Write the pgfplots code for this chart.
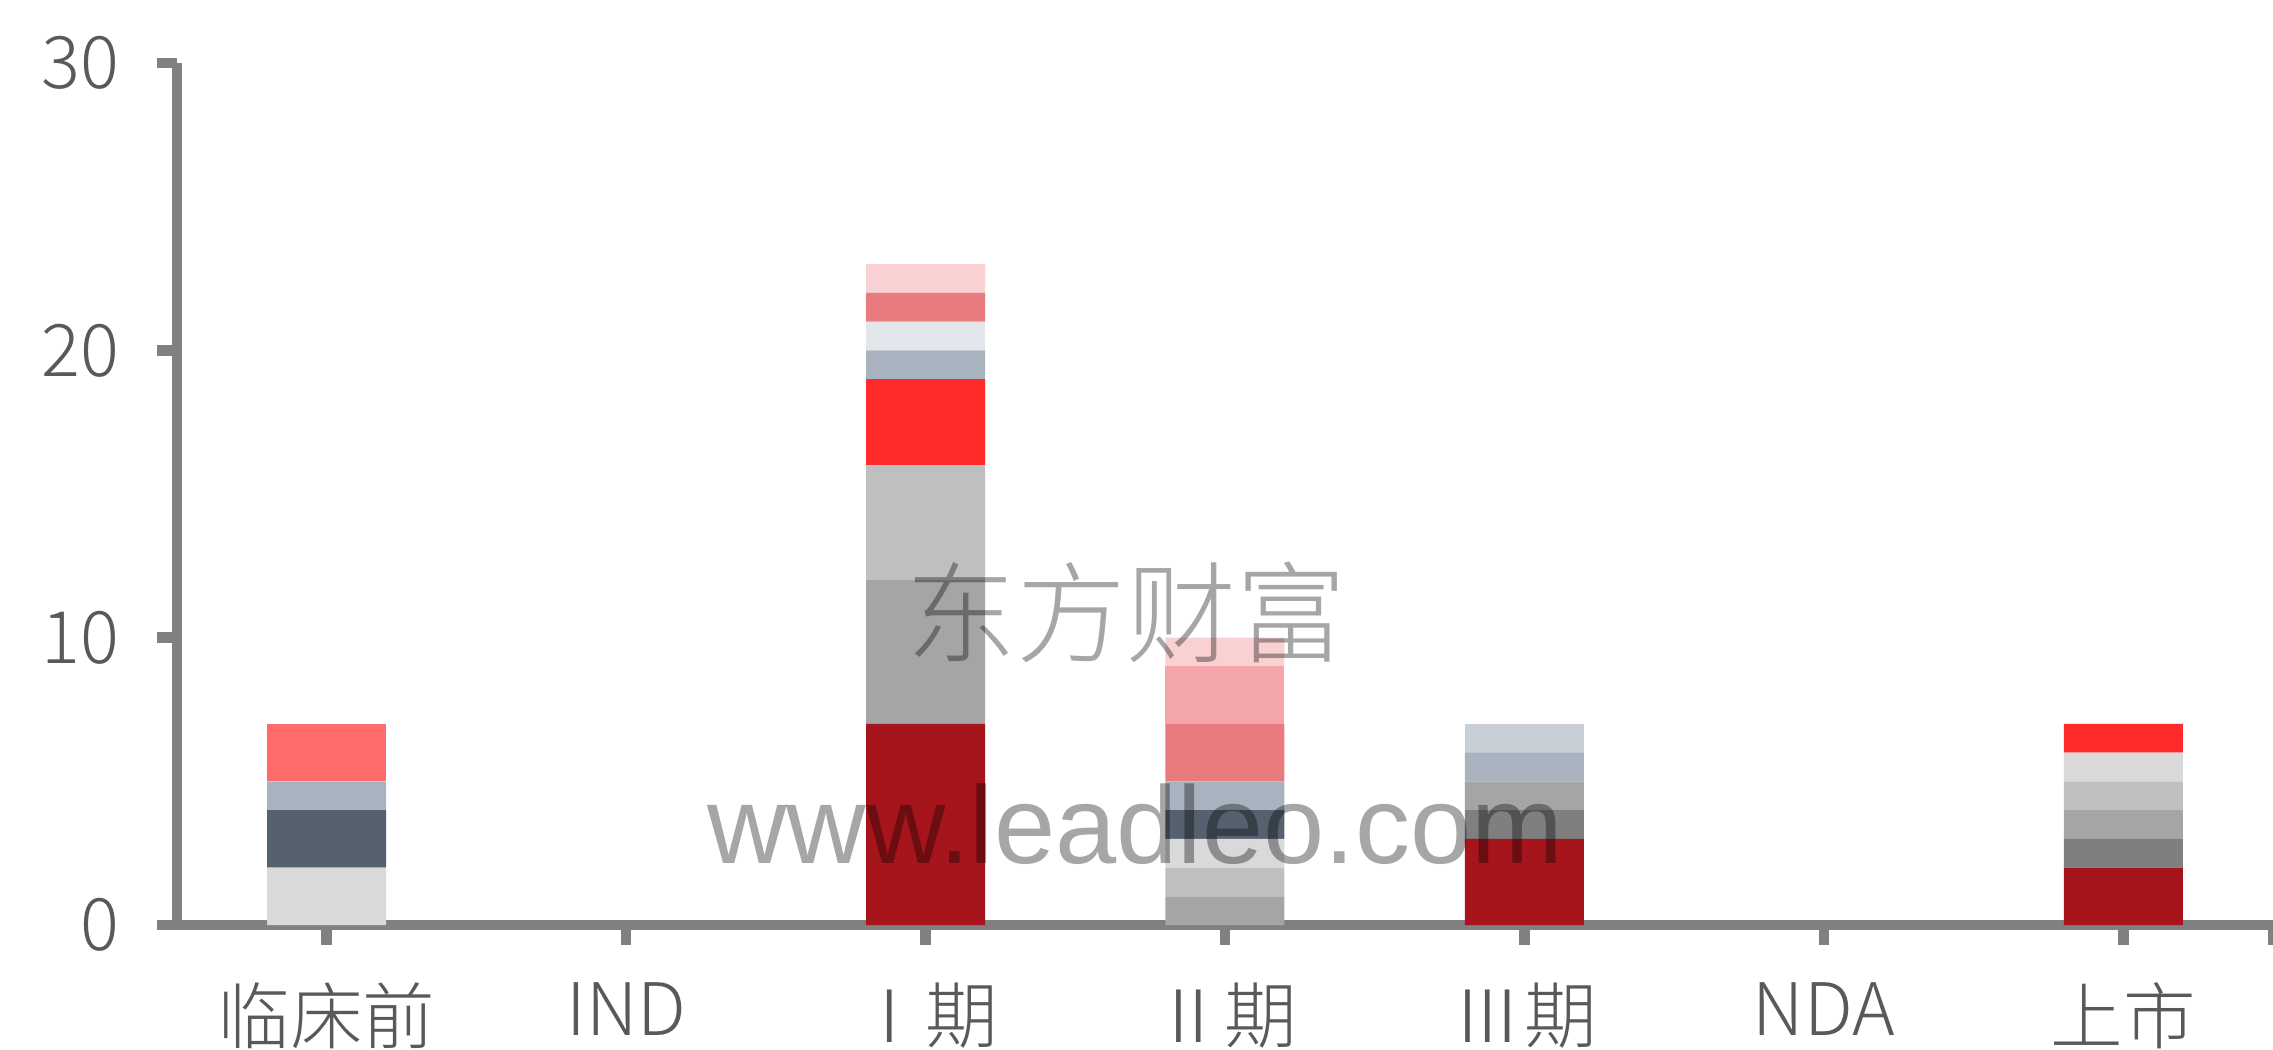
\documentclass[border=0pt]{standalone}
\usepackage{pgfplots}
\usepackage{pgfplotstable}
\pgfplotsset{compat=1.18}
\usepackage{fontspec}
\setmainfont{Noto Sans CJK SC}[UprightFont=* Light]
\newfontfamily\wmfont{Liberation Sans}

\definecolor{axisgray}{HTML}{808080}
\definecolor{labelgray}{HTML}{595959}
\definecolor{c1}{HTML}{A6141C}
\definecolor{c2}{HTML}{7F7F7F}
\definecolor{c3}{HTML}{A5A5A5}
\definecolor{c4}{HTML}{BFBFBF}
\definecolor{c5}{HTML}{D9D9D9}
\definecolor{c6}{HTML}{56616F}
\definecolor{c7}{HTML}{FF2A2A}
\definecolor{c8}{HTML}{A9B3BF}
\definecolor{c9}{HTML}{C9CFD7}
\definecolor{c10}{HTML}{E3E6EA}
\definecolor{c11}{HTML}{FF6B6B}
\definecolor{c12}{HTML}{E97A7E}
\definecolor{c13}{HTML}{F4A6AA}
\definecolor{c14}{HTML}{F9D1D3}

\pgfplotstableread{
x s1 s2 s3 s4 s5 s6 s7 s8 s9 s10 s11 s12 s13 s14
0 0 0 0 0 2 2 0 1 0 0 2 0 0 0
1 0 0 0 0 0 0 0 0 0 0 0 0 0 0
2 7 0 5 4 0 0 3 1 0 1 0 1 0 1
3 0 0 1 1 1 1 0 1 0 0 0 2 2 1
4 3 1 1 0 0 0 0 1 1 0 0 0 0 0
5 0 0 0 0 0 0 0 0 0 0 0 0 0 0
6 2 1 1 1 1 0 1 0 0 0 0 0 0 0
}\datatable

\begin{document}
\begin{tikzpicture}
\begin{axis}[
  scale only axis,
  width=419.2pt, height=172.4pt,
  xmin=-0.5, xmax=6.5, ymin=0, ymax=30,
  ybar stacked, bar width=23.8pt,
  axis x line*=bottom, axis y line*=left,
  axis line style={draw=axisgray, line width=2.1pt, -},
  xtick={0,1,2,3,4,5,6},
  xticklabels={临床前,IND,Ⅰ期,Ⅱ期,Ⅲ期,NDA,上市},
  extra x ticks={6.5}, extra x tick labels={},
  ytick={0,10,20,30},
  tick align=outside, major tick length=4pt,
  tick style={draw=axisgray, line width=2.1pt},
  ticklabel style={font=\fontsize{14.5}{16}\selectfont, text=labelgray},
  xticklabel style={yshift=-4pt},
  yticklabel style={xshift=-4pt},
  /pgf/number format/assume math mode=true,
  clip=false,
  every axis plot/.append style={draw=none},
]
\addplot[fill=c1] table[x=x,y=s1]{\datatable};
\addplot[fill=c2] table[x=x,y=s2]{\datatable};
\addplot[fill=c3] table[x=x,y=s3]{\datatable};
\addplot[fill=c4] table[x=x,y=s4]{\datatable};
\addplot[fill=c5] table[x=x,y=s5]{\datatable};
\addplot[fill=c6] table[x=x,y=s6]{\datatable};
\addplot[fill=c7] table[x=x,y=s7]{\datatable};
\addplot[fill=c8] table[x=x,y=s8]{\datatable};
\addplot[fill=c9] table[x=x,y=s9]{\datatable};
\addplot[fill=c10] table[x=x,y=s10]{\datatable};
\addplot[fill=c11] table[x=x,y=s11]{\datatable};
\addplot[fill=c12] table[x=x,y=s12]{\datatable};
\addplot[fill=c13] table[x=x,y=s13]{\datatable};
\addplot[fill=c14] table[x=x,y=s14]{\datatable};
\coordinate (wm1) at (axis cs:2.67,10.9);
\coordinate (wm2) at (axis cs:2.70,2.15);
\end{axis}
\node[font=\fontsize{22}{24}\selectfont, text=black, text opacity=0.35] at (wm1) {东方财富};
\node[font=\wmfont\fontsize{22}{24}\selectfont, text=black, text opacity=0.35, anchor=base] at (wm2) {www.leadleo.com};
\pgfresetboundingbox
\path[use as bounding box] (-35.4pt,-24.8pt) rectangle (419.2pt,185pt);
\end{tikzpicture}
\end{document}
